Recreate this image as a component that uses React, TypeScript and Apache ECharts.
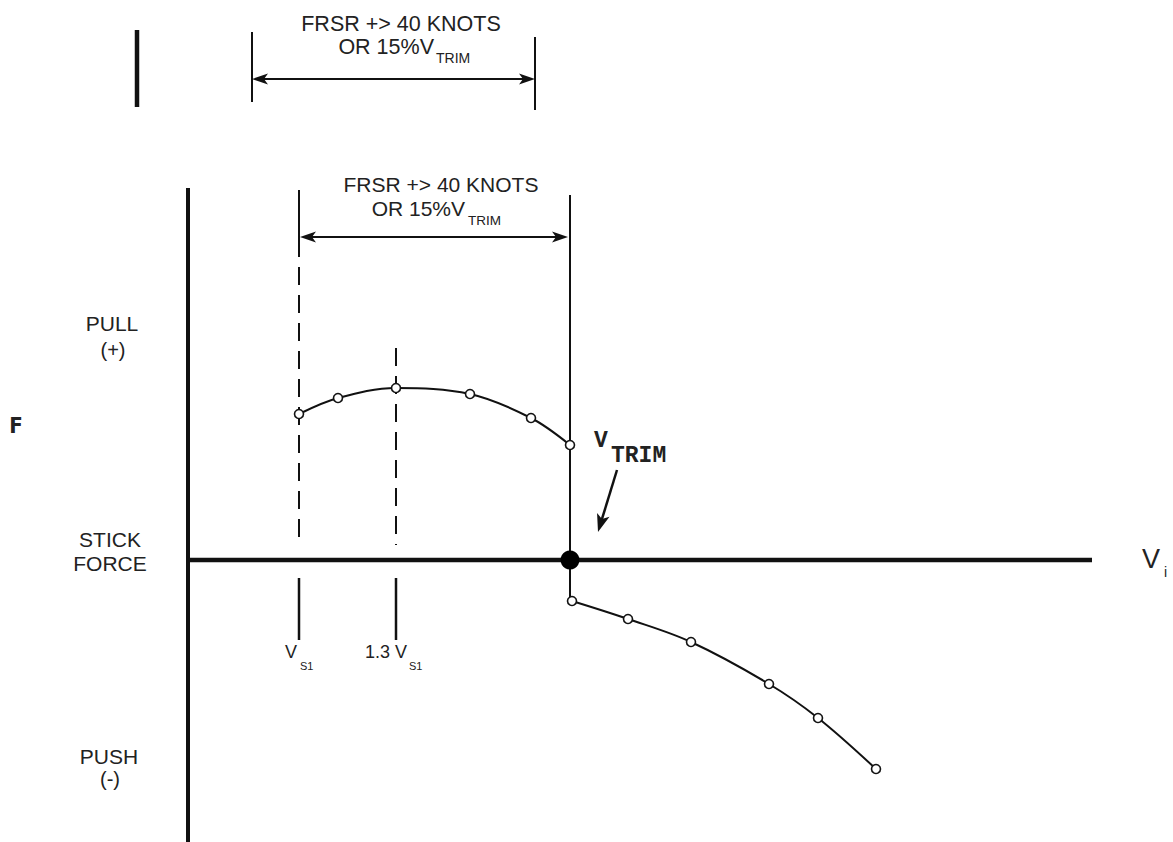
import React, { useEffect, useRef } from "react";
import * as echarts from "echarts";

// Chart units: x = indicated airspeed (arbitrary units from the force axis),
// y = stick force (arbitrary units, pull +, push -). Origin = axes crossing.
const X_RANGE = [-188, 985];
const Y_RANGE = [-282, 560];

// Stick force curve points
const upperSpeeds = [111, 150, 208, 282, 343, 382];
const upperForces = [146, 162, 172, 166, 142, 115];
const lowerSpeeds = [384, 440, 503, 581, 630, 688];
const lowerForces = [-41, -59, -82, -124, -158, -209];

// Reference speeds
const vS1 = 111;
const v13S1 = 208;
const vTrim = 382;
const trimForce = 0;

// Axis extents
const forceAxisTop = 372;
const forceAxisBottom = -282;
const speedAxisEnd = 904;

// Reference line extents (force units)
const vS1SolidTop = [370, 303];
const vS1Dashed = [293, 15];
const v13S1Dashed = [212, 15];
const tickBelow = [-18, -80];
const vTrimLine = [365, -41];

// Displaced copy of the FRSR bracket at the top
const topBar = [-51, 530, 453];
const topLeftLine = [64, 528, 458];
const topRightLine = [347, 523, 450];

// Arrows: [x1, y1, x2, y2, doubleHeaded]
const arrows = [
  [64, 481, 347, 481, 1],
  [112, 323, 380, 323, 1],
  [429, 90, 410, 28, 0],
];

const INK = "#111";
const TXT = "#222";
const SANS = "'Liberation Sans', Arial, Helvetica, sans-serif";
const MONO = "'Liberation Mono', 'Courier New', monospace";
const NARROW = "'Liberation Sans Narrow', 'DejaVu Sans Condensed', sans-serif";

type T = {
  t: string;
  x: number;
  y: number;
  size: number;
  align?: string;
  font?: string;
  weight?: string;
};

const texts: T[] = [
  { t: "FRSR +> 40 KNOTS", x: 401, y: 24, size: 21.5, align: "center" },
  { t: "OR 15%V", x: 434, y: 47, size: 21.5, align: "right" },
  { t: "TRIM", x: 436, y: 58, size: 14, align: "left" },
  { t: "FRSR +> 40 KNOTS", x: 441, y: 184, size: 21, align: "center" },
  { t: "OR 15%V", x: 465, y: 208, size: 21, align: "right" },
  { t: "TRIM", x: 468, y: 220, size: 13.5, align: "left" },
  { t: "PULL", x: 112, y: 323, size: 21, align: "center" },
  { t: "(+)", x: 113, y: 350, size: 20, align: "center" },
  { t: "STICK", x: 110, y: 539, size: 21, align: "center" },
  { t: "FORCE", x: 110, y: 563, size: 21, align: "center" },
  { t: "PUSH", x: 109, y: 756, size: 21, align: "center" },
  { t: "(-)", x: 110, y: 779, size: 20, align: "center" },
  { t: "F", x: 16, y: 425, size: 22, align: "center", font: NARROW, weight: "bold" },
  { t: "V", x: 291, y: 652, size: 18, align: "center" },
  { t: "S1", x: 300, y: 666, size: 11, align: "left" },
  { t: "1.3 V", x: 407, y: 652, size: 18, align: "right" },
  { t: "S1", x: 409, y: 666, size: 11, align: "left" },
  { t: "V", x: 594, y: 441, size: 23, align: "left", font: MONO, weight: "bold" },
  { t: "TRIM", x: 611, y: 456, size: 23, align: "left", font: MONO, weight: "bold" },
  { t: "V", x: 1142, y: 559, size: 27, align: "left" },
  { t: "i", x: 1164, y: 572, size: 14, align: "left" },
];

function seg(pts: number[][], width: number, dashed = false) {
  return {
    type: "line",
    data: pts,
    symbol: "none",
    showSymbol: false,
    silent: true,
    clip: false,
    lineStyle: { color: INK, width, type: dashed ? [18, 10] : "solid", cap: "butt" },
    z: 2,
  };
}

function curve(xs: number[], ys: number[]) {
  return {
    type: "line",
    data: xs.map((x, i) => [x, ys[i]]),
    smooth: 0.35,
    symbol: "circle",
    symbolSize: 9,
    showSymbol: true,
    silent: true,
    clip: false,
    lineStyle: { color: INK, width: 2 },
    itemStyle: { color: "#fff", borderColor: INK, borderWidth: 1.6, opacity: 1 },
    z: 4,
  };
}

export default function App() {
  const ref = useRef<HTMLDivElement>(null);

  useEffect(() => {
    if (!ref.current) return;
    const chart = echarts.init(ref.current, undefined, { renderer: "svg" });

    const series: any[] = [
      // axes
      seg([[0, forceAxisTop], [0, forceAxisBottom]], 4),
      seg([[0, trimForce], [speedAxisEnd, trimForce]], 4.5),
      // reference lines
      seg([[vS1, vS1SolidTop[0]], [vS1, vS1SolidTop[1]]], 2),
      seg([[vS1, vS1Dashed[0]], [vS1, vS1Dashed[1]]], 2, true),
      seg([[v13S1, v13S1Dashed[0]], [v13S1, v13S1Dashed[1]]], 2, true),
      seg([[vS1, tickBelow[0]], [vS1, tickBelow[1]]], 2.5),
      seg([[v13S1, tickBelow[0]], [v13S1, tickBelow[1]]], 2.5),
      seg([[vTrim, vTrimLine[0]], [vTrim, vTrimLine[1]]], 2),
      // displaced bracket at top
      seg([[topBar[0], topBar[1]], [topBar[0], topBar[2]]], 4.5),
      seg([[topLeftLine[0], topLeftLine[1]], [topLeftLine[0], topLeftLine[2]]], 2),
      seg([[topRightLine[0], topRightLine[1]], [topRightLine[0], topRightLine[2]]], 2),
      // curves
      curve(upperSpeeds, upperForces),
      curve(lowerSpeeds, lowerForces),
      // trim point
      {
        type: "scatter",
        data: [[vTrim, trimForce]],
        symbol: "circle",
        symbolSize: 19,
        itemStyle: { color: "#000", opacity: 1 },
        silent: true,
        z: 6,
      },
      // arrows
      {
        type: "custom",
        data: arrows,
        encode: { x: [0, 2], y: [1, 3] },
        silent: true,
        clip: false,
        z: 5,
        renderItem: (_params: any, api: any) => {
          const a = api.coord([api.value(0), api.value(1)]);
          const b = api.coord([api.value(2), api.value(3)]);
          const both = api.value(4) === 1;
          const L = both ? 16 : 18;
          const W = both ? 11 : 13;
          const lw = both ? 2 : 2.5;
          const dx = b[0] - a[0];
          const dy = b[1] - a[1];
          const len = Math.hypot(dx, dy) || 1;
          const ux = dx / len;
          const uy = dy / len;
          const nx = -uy;
          const ny = ux;
          const head = (t: number[], s: number) => ({
            type: "polygon",
            shape: {
              points: [
                [t[0], t[1]],
                [t[0] - s * ux * L + (nx * W) / 2, t[1] - s * uy * L + (ny * W) / 2],
                [t[0] - s * ux * L * 0.75, t[1] - s * uy * L * 0.75],
                [t[0] - s * ux * L - (nx * W) / 2, t[1] - s * uy * L - (ny * W) / 2],
              ],
            },
            style: { fill: INK },
          });
          const children: any[] = [
            {
              type: "line",
              shape: {
                x1: a[0] + (both ? ux * L * 0.6 : 0),
                y1: a[1] + (both ? uy * L * 0.6 : 0),
                x2: b[0] - ux * L * 0.6,
                y2: b[1] - uy * L * 0.6,
              },
              style: { stroke: INK, lineWidth: lw },
            },
            head(b, 1),
          ];
          if (both) children.push(head(a, -1));
          return { type: "group", children };
        },
      },
    ];

    const graphic = texts.map((d) => ({
      type: "text",
      x: d.x,
      y: d.y,
      silent: true,
      style: {
        text: d.t,
        fontSize: d.size,
        fontFamily: d.font || SANS,
        fontWeight: d.weight || "normal",
        fill: TXT,
        align: d.align || "left",
        verticalAlign: "middle",
      },
      z: 10,
    }));

    chart.setOption({
      animation: false,
      backgroundColor: "#fff",
      grid: { left: 0, right: 0, top: 0, bottom: 0 },
      xAxis: {
        type: "value",
        min: X_RANGE[0],
        max: X_RANGE[1],
        show: false,
      },
      yAxis: {
        type: "value",
        min: Y_RANGE[0],
        max: Y_RANGE[1],
        show: false,
      },
      series,
      graphic,
    });

    return () => chart.dispose();
  }, []);

  return (
    <div
      ref={ref}
      style={{ position: "absolute", left: 0, top: 0, width: 1173, height: 842, background: "#fff" }}
    />
  );
}
